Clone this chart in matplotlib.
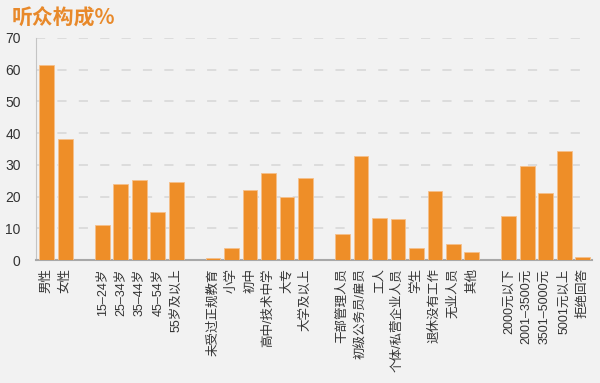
import matplotlib
matplotlib.use('Agg')
import matplotlib.pyplot as plt
import numpy as np

plt.rcParams['font.family'] = ['Liberation Sans', 'Noto Sans CJK SC', 'DejaVu Sans']

# groups of categories (a blank slot is left between groups)
gender = ['男性', '女性']
gender_vals = [61.5, 38.2]
age = ['15–24岁', '25–34岁', '35–44岁', '45–54岁', '55岁及以上']
age_vals = [11.0, 24.0, 25.2, 15.0, 24.5]
edu = ['未受过正规教育', '小学', '初中', '高中/技术中学', '大专', '大学及以上']
edu_vals = [0.7, 3.9, 22.1, 27.4, 19.9, 25.8]
job = ['干部管理人员', '初级公务员/雇员', '工人', '个体/私营企业人员', '学生',
       '退休没有工作', '无业人员', '其他']
job_vals = [8.2, 32.8, 13.1, 13.0, 3.9, 21.8, 5.0, 2.5]
income = ['2000元以下', '2001–3500元', '3501–5000元', '5001元以上', '拒绝回答']
income_vals = [14.0, 29.7, 21.0, 34.4, 1.0]

groups = [(gender, gender_vals), (age, age_vals), (edu, edu_vals),
          (job, job_vals), (income, income_vals)]

labels, values, pos = [], [], []
p = 0
for names, vals in groups:
    for n, v in zip(names, vals):
        labels.append(n)
        values.append(v)
        pos.append(p)
        p += 1
    p += 1  # gap between groups

bg = '#F2F2F2'
fig = plt.figure(figsize=(6, 3.83), dpi=100, facecolor=bg)
ax = fig.add_axes([0.06, 0.321, 0.927, 0.58], facecolor=bg)

ax.bar(pos, values, width=0.8, color='#EE8E28', edgecolor='#F6C08A', linewidth=0.6, zorder=3)

ax.set_xlim(-0.58, pos[-1] + 0.51)
ax.set_ylim(0, 70)
ax.set_yticks(np.arange(0, 71, 10))
ax.yaxis.grid(True, color='#D6D6D6', linestyle=(0, (6, 8)), linewidth=1.1, zorder=0)
ax.set_axisbelow(True)

ax.set_xticks(pos)
ax.set_xticklabels(labels, rotation=90, ha='center', va='top', fontsize=9, color='#333333')
ax.tick_params(axis='x', length=0, pad=6)
ax.tick_params(axis='y', length=0, pad=11, labelsize=10, labelcolor='#333333')

for s in ['top', 'right']:
    ax.spines[s].set_visible(False)
ax.spines['left'].set_color('#C4C4C4')
ax.spines['bottom'].set_color('#A8A8A8')
ax.spines['bottom'].set_linewidth(1.5)

fig.text(0.02, 0.954, '听众构成%', color='#E8892A', fontsize=15, fontweight='bold',
         ha='left', va='center', family=['Noto Sans CJK SC', 'DejaVu Sans'])

fig.savefig('out.png', dpi=100, facecolor=bg)
